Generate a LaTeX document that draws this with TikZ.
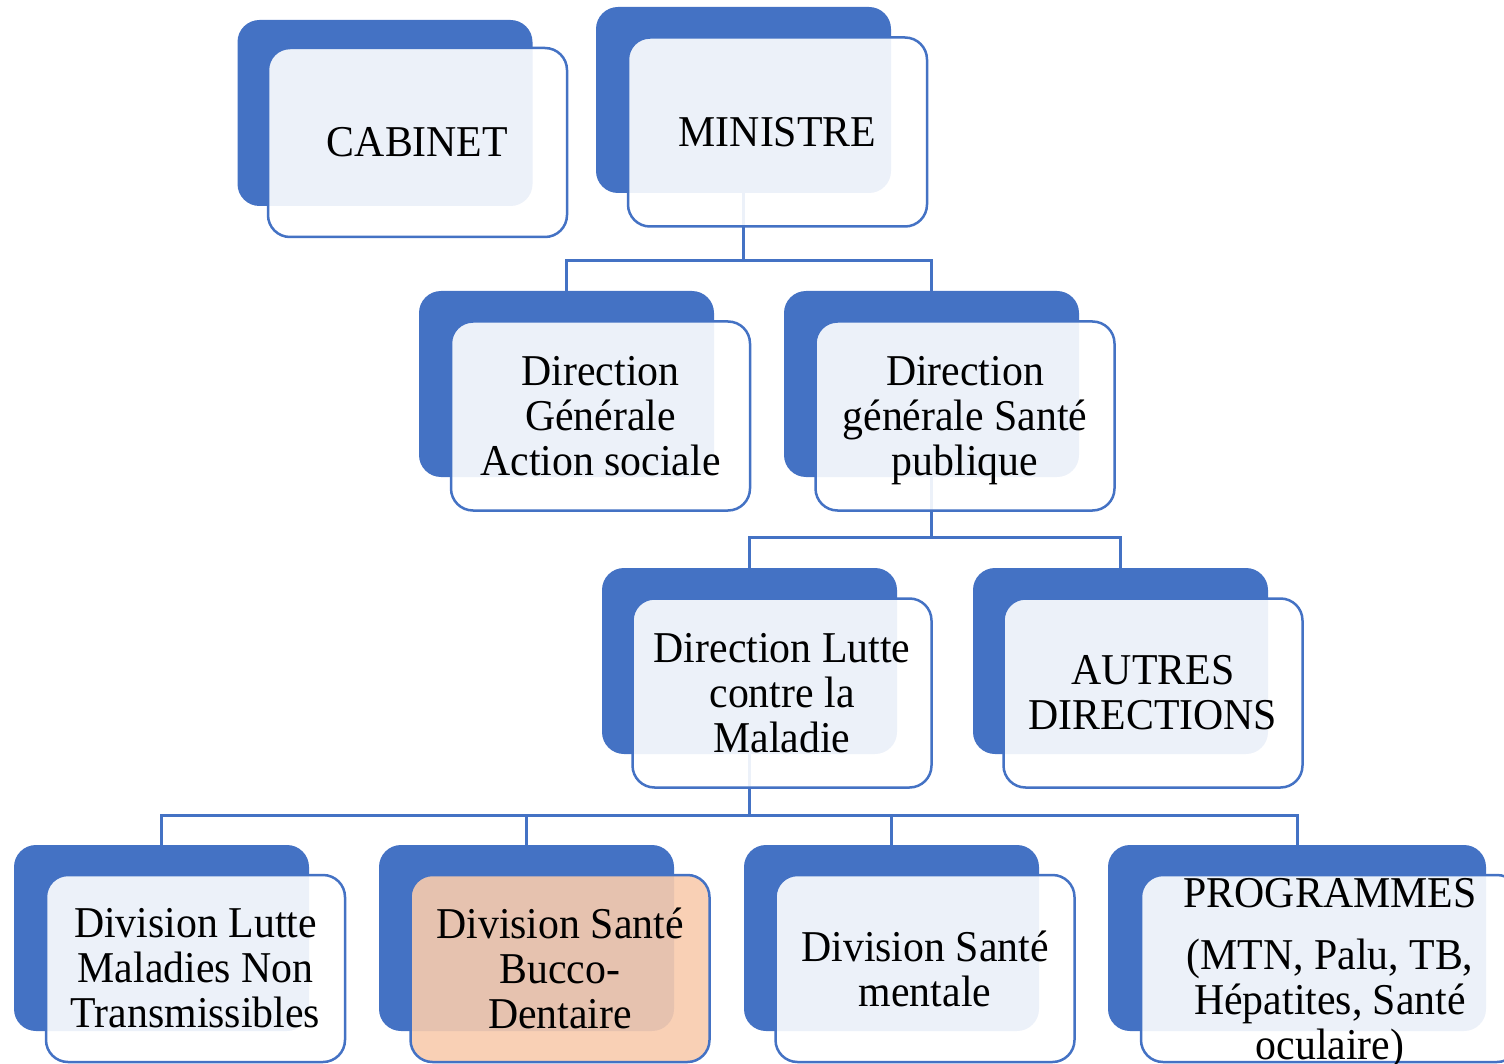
\documentclass[tikz,border=0pt]{standalone}
\usepackage{fontspec}
\setmainfont[FakeStretch=0.95]{Liberation Serif}
\pgfdeclarelayer{bg}
\pgfsetlayers{bg,main}
\definecolor{orgblue}{HTML}{4472C4}
\definecolor{peach}{HTML}{F8CBAD}
\tikzset{
  backbox/.style={draw=none, fill=orgblue, rounded corners=22pt,
    minimum width=295pt, minimum height=186pt, inner sep=0pt},
  frontbox/.style={draw=orgblue, line width=2.5pt, fill=white, fill opacity=0.9,
    text opacity=1, rounded corners=22pt, minimum width=299pt, minimum height=189pt,
    inner sep=0pt, align=center, font=\fontsize{44}{45}\selectfont},
  conn/.style={draw=orgblue, line width=3pt},
}
\begin{document}
\begin{tikzpicture}[x=1pt, y=-1pt]
\useasboundingbox (0,0) rectangle (1504,1064);

% top level
\node[backbox] (cabB) at (385,113) {};
\node[frontbox] (cab) at (417.5,142.5) {CABINET};
\node[backbox] (minB) at (743.5,100) {};
\node[frontbox] (min) at (777.5,132) {MINISTRE};

% general directorates
\node[backbox] (dgasB) at (566.5,384) {};
\node[frontbox] (dgas) at (600.5,416) {Direction\\Générale\\Action sociale};
\node[backbox] (dgspB) at (931.5,384) {};
\node[frontbox, text depth=0pt] (dgsp) at (965,416) {Direction\\générale Santé\\publique};

% directorates
\node[backbox] (dlmB) at (749.5,661) {};
\node[frontbox] (dlm) at (782,693) {Direction Lutte\\contre la\\Maladie};
\node[backbox] (autB) at (1120.5,661) {};
\node[frontbox] (aut) at (1153,693) {AUTRES\\DIRECTIONS};

% divisions and programmes
\node[backbox] (div1B) at (161.5,938) {};
\node[frontbox, minimum height=187pt] (div1) at (195.5,968.5) {Division Lutte\\Maladies Non\\Transmissibles};
\node[backbox] (div2B) at (526.5,938) {};
\node[frontbox, minimum height=187pt, fill=peach] (div2) at (560,968.5) {Division Santé\\Bucco-\\Dentaire};
\node[backbox] (div3B) at (891.5,938) {};
\node[frontbox, minimum height=187pt] (div3) at (925,968.5) {Division Santé\\mentale};
\node[backbox, minimum width=378pt] (progB) at (1297,938) {};
\node[frontbox, minimum height=187pt, minimum width=378pt] (prog) at (1330,968.5) {};
\node[align=center, inner sep=0pt, font=\fontsize{44}{45}\selectfont] (progtxt) at (1330,973.5)
  {PROGRAMMES\\[17pt](MTN, Palu, TB,\\Hépatites, Santé\\oculaire)};

% bus levels
\coordinate (bus1) at (0,261);
\coordinate (bus2) at (0,537);
\coordinate (bus3) at (0,815);

\begin{pgfonlayer}{bg}
  \draw[conn] (minB.center) -- (minB.center |- bus1);
  \draw[conn] (dgasB.north) -- (dgasB.north |- bus1) -- (dgspB.north |- bus1) -- (dgspB.north);
  \draw[conn] (dgspB.center) -- (dgspB.center |- bus2);
  \draw[conn] (dlmB.north) -- (dlmB.north |- bus2) -- (autB.north |- bus2) -- (autB.north);
  \draw[conn] (dlmB.center) -- (dlmB.center |- bus3);
  \draw[conn] (div1B.north) -- (div1B.north |- bus3) -- (progB.north |- bus3) -- (progB.north);
  \draw[conn] (div2B.north) -- (div2B.north |- bus3);
  \draw[conn] (div3B.north) -- (div3B.north |- bus3);
\end{pgfonlayer}
\end{tikzpicture}
\end{document}
